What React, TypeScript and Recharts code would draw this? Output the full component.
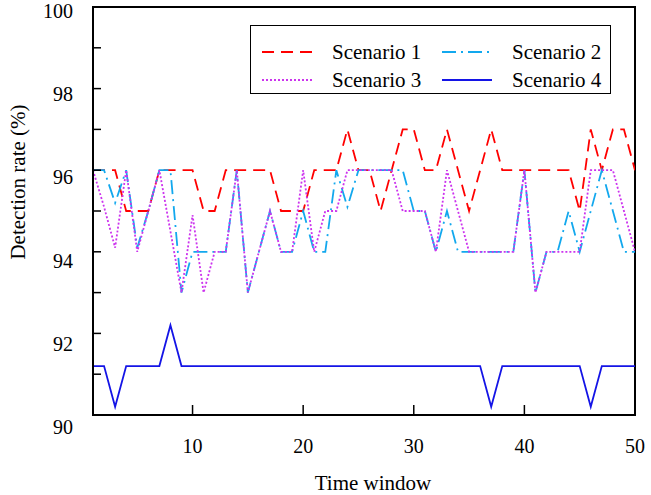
import React from 'react';
import { LineChart, Line, XAxis, YAxis, Legend, ReferenceArea } from 'recharts';

const timeWindows = [
  1, 2, 3, 4, 5, 6, 7, 8, 9, 10, 11, 12, 13, 14, 15, 16, 17, 18, 19, 20, 21, 22, 23, 24, 25,
  26, 27, 28, 29, 30, 31, 32, 33, 34, 35, 36, 37, 38, 39, 40, 41, 42, 43, 44, 45, 46, 47, 48, 49, 50,
];

const scenario1 = [
  96, 96, 96, 95, 95, 95, 96, 96, 96, 96, 95, 95, 96, 96, 96, 96, 96, 95, 95, 95, 96, 96, 96, 97, 96,
  96, 95, 96, 97, 97, 96, 96, 97, 96, 95, 96, 97, 96, 96, 96, 96, 96, 96, 96, 95, 97, 96, 97, 97, 96,
];

const scenario2 = [
  96, 96, 95.2, 96, 94.1, 95, 96, 96, 93, 94, 94, 94, 94, 96, 93, 94, 95, 94, 94, 95, 94, 94, 96, 95.1, 96,
  96, 96, 96, 96, 95, 95, 94, 95, 94, 94, 94, 94, 94, 94, 96, 93, 94, 94, 95, 94, 95, 96, 95, 94, 94,
];

const scenario3 = [
  96, 95.1, 94.1, 96, 94, 95, 96, 94.5, 93, 94.9, 93, 94, 94, 96, 93, 94, 95, 94, 94, 96, 94, 95, 95, 96, 96,
  96, 96, 96, 95, 95, 95, 94, 96, 95, 94, 94, 94, 94, 94, 96, 93, 94, 94, 94, 94, 96, 96, 96, 95, 94,
];

const scenario4 = [
  91.2, 91.2, 90.2, 91.2, 91.2, 91.2, 91.2, 92.2, 91.2, 91.2, 91.2, 91.2, 91.2, 91.2, 91.2, 91.2, 91.2,
  91.2, 91.2, 91.2, 91.2, 91.2, 91.2, 91.2, 91.2, 91.2, 91.2, 91.2, 91.2, 91.2, 91.2, 91.2, 91.2, 91.2,
  91.2, 91.2, 90.2, 91.2, 91.2, 91.2, 91.2, 91.2, 91.2, 91.2, 91.2, 90.2, 91.2, 91.2, 91.2, 91.2,
];

const xTicks = [10, 20, 30, 40, 50];
const yTicks = [90, 91, 92, 93, 94, 95, 96, 97, 98, 99, 100];

const series = [
  { key: 's1', name: 'Scenario 1', color: '#ff0000', dash: '12 7' },
  { key: 's2', name: 'Scenario 2', color: '#12a8ee', dash: '14 5 2 5' },
  { key: 's3', name: 'Scenario 3', color: '#cc33ee', dash: '2 2' },
  { key: 's4', name: 'Scenario 4', color: '#1414e6', dash: undefined },
];

const data = timeWindows.map((t, i) => ({
  t,
  s1: scenario1[i],
  s2: scenario2[i],
  s3: scenario3[i],
  s4: scenario4[i],
}));

const font = '"Liberation Serif", "Times New Roman", serif';

// legend slots: col 1 / col 2, row 1 / row 2
const slots = [
  { left: 11, top: 14 },
  { left: 191, top: 14 },
  { left: 11, top: 42 },
  { left: 191, top: 42 },
];

function renderLegend() {
  return (
    <div
      style={{
        width: 361,
        height: 69,
        border: '1.5px solid #000',
        background: '#fff',
        boxSizing: 'border-box',
        position: 'relative',
        fontFamily: font,
      }}
    >
      {series.map((s, i) => (
        <div
          key={s.key}
          style={{ position: 'absolute', left: slots[i].left, top: slots[i].top, display: 'flex', alignItems: 'center', height: 24 }}
        >
          <svg width={50} height={10}>
            <line x1={0} y1={5} x2={50} y2={5} stroke={s.color} strokeWidth={2} strokeDasharray={s.dash} />
          </svg>
          <span style={{ marginLeft: 20, fontSize: 21, color: '#000', lineHeight: '24px' }}>{s.name}</span>
        </div>
      ))}
    </div>
  );
}

// y labels sit a little below their ticks in the original, more so near the bottom
function YTick(props: any) {
  const { x, y, payload } = props;
  const v = payload.value as number;
  if (v % 2 !== 0) return null;
  const dy = 4 + (100 - v) * 0.8;
  return (
    <text x={x} y={y + dy} textAnchor="end" dominantBaseline="central" fontSize={20} fontFamily={font} fill="#000">
      {v}
    </text>
  );
}

export default function App() {
  return (
    <div style={{ position: 'absolute', left: 0, top: 0, fontFamily: font }}>
      <LineChart width={651} height={495} data={data} margin={{ top: 7, right: 0, bottom: 0, left: 0 }}>
        <XAxis
          dataKey="t"
          type="number"
          domain={[1, 50]}
          ticks={xTicks}
          allowDataOverflow
          height={80}
          tickSize={-10}
          tickMargin={34}
          axisLine={{ stroke: '#000', strokeWidth: 2 }}
          tickLine={{ stroke: '#000', strokeWidth: 1.5 }}
          tick={{ fill: '#000', fontSize: 20, fontFamily: font }}
          label={() => (
            <text x={373} y={490} textAnchor="middle" fontSize={21} fontFamily={font} fill="#000">
              Time window
            </text>
          )}
        />
        <YAxis
          type="number"
          domain={[90, 100]}
          ticks={yTicks}
          interval={0}
          allowDataOverflow
          width={93}
          tickSize={-8}
          tickMargin={28}
          axisLine={{ stroke: '#000', strokeWidth: 2 }}
          tickLine={{ stroke: '#000', strokeWidth: 1.5 }}
          tick={<YTick />}
          label={() => (
            <text x={25} y={182} textAnchor="middle" fontSize={21} fontFamily={font} fill="#000" transform="rotate(-90 25 182)">
              Detection rate (%)
            </text>
          )}
        />
        <YAxis
          yAxisId="right"
          orientation="right"
          type="number"
          domain={[90, 100]}
          ticks={yTicks}
          interval={0}
          allowDataOverflow
          width={16}
          tickSize={-7}
          tick={false}
          axisLine={false}
          tickLine={{ stroke: '#000', strokeWidth: 1.5 }}
        />
        {series.map((s) => (
          <Line
            key={s.key}
            type="linear"
            dataKey={s.key}
            name={s.name}
            stroke={s.color}
            strokeWidth={1.8}
            strokeDasharray={s.dash}
            dot={false}
            activeDot={false}
            isAnimationActive={false}
          />
        ))}
        <ReferenceArea x1={1} x2={50} y1={90} y2={100} fill="none" stroke="#000" strokeWidth={2} ifOverflow="visible" />
        <Legend
          layout="vertical"
          align="center"
          verticalAlign="middle"
          content={renderLegend}
          wrapperStyle={{ left: 250, top: 25, width: 361, height: 69 }}
        />
      </LineChart>
    </div>
  );
}
